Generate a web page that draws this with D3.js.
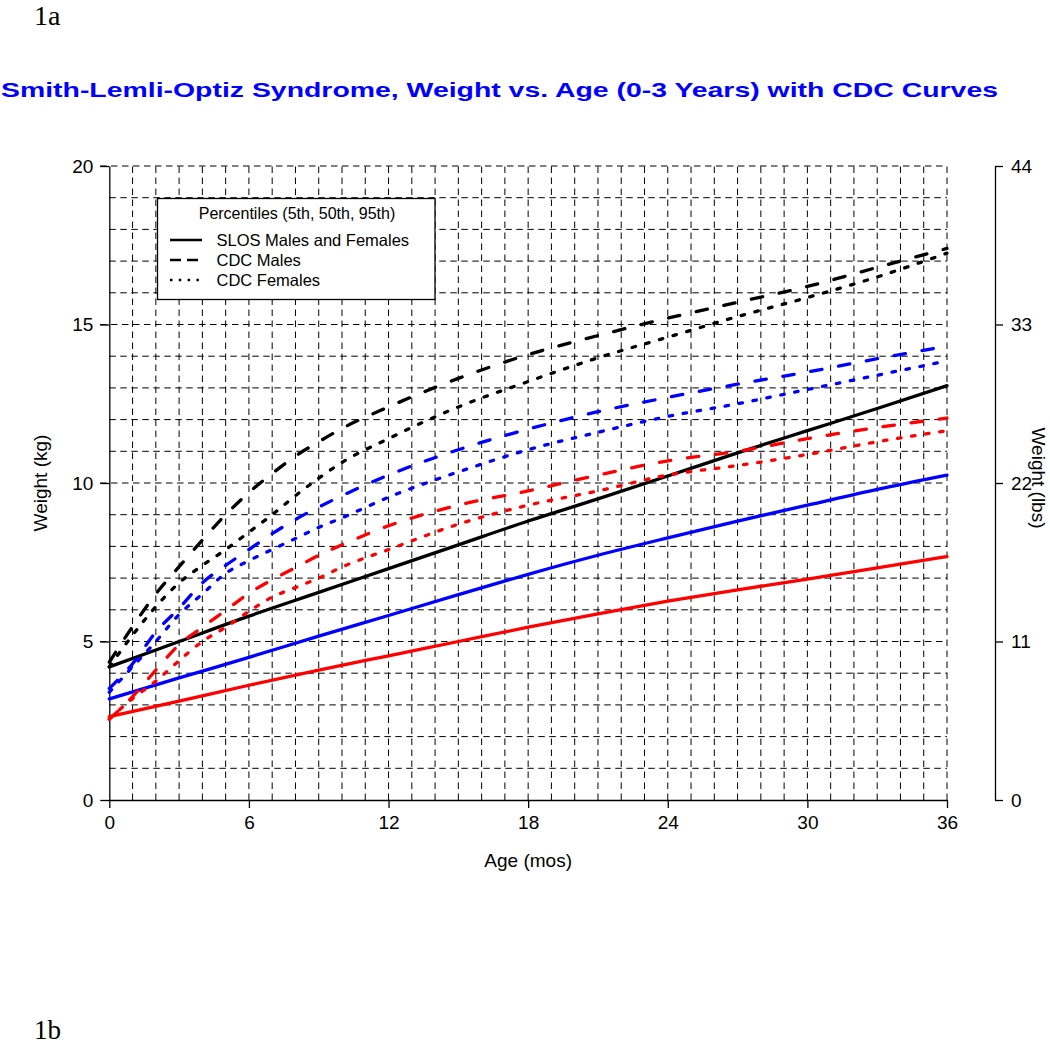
<!DOCTYPE html>
<html>
<head>
<meta charset="utf-8">
<script src="https://cdn.jsdelivr.net/npm/d3@7"></script>
<style>
  body { margin: 0; background: #fff; }
  svg { display: block; }
  text { font-family: "Liberation Sans", Arial, sans-serif; }
</style>
</head>
<body>
<script>
// ---------------- data ----------------
const titleText = "Smith-Lemli-Optiz Syndrome, Weight vs. Age (0-3 Years) with CDC Curves";
const xTicks = [0, 6, 12, 18, 24, 30, 36];
const yTicksKg = [0, 5, 10, 15, 20];
const yTicksLbs = [0, 11, 22, 33, 44];
const legendTitle = "Percentiles (5th, 50th, 95th)";
const legendLabels = ["SLOS Males and Females", "CDC Males", "CDC Females"];

// SLOS (solid)
const slosMonths = [0, 3, 6, 9, 12, 15, 18, 21, 24, 27, 30, 33, 36];
const slos95 = [4.2, 5.0, 5.8, 6.55, 7.3, 8.05, 8.8, 9.5, 10.22, 10.95, 11.65, 12.35, 13.07];
const slos50 = [3.19, 3.85, 4.5, 5.17, 5.82, 6.48, 7.12, 7.72, 8.27, 8.8, 9.3, 9.8, 10.25];
const slos5  = [2.63, 3.12, 3.62, 4.1, 4.55, 5.0, 5.45, 5.87, 6.27, 6.63, 6.97, 7.32, 7.68];

// CDC curves
const cdcMonths = [0, 1, 2, 3, 4, 5, 6, 7, 8, 9, 10, 12, 15, 18, 21, 24, 27, 30, 33, 36];
const cdcMale95   = [4.35, 5.47, 6.5, 7.36, 8.2, 9.0, 9.7, 10.3, 10.85, 11.3, 11.72, 12.4, 13.3, 14.05, 14.65, 15.2, 15.7, 16.2, 16.8, 17.4];
const cdcFemale95 = [4.2, 5.2, 6.1, 6.85, 7.4, 7.9, 8.45, 9.0, 9.6, 10.15, 10.65, 11.4, 12.4, 13.2, 13.95, 14.6, 15.25, 15.85, 16.5, 17.25];
const cdcMale50   = [3.52, 4.3, 5.3, 6.05, 6.85, 7.4, 7.9, 8.4, 8.85, 9.24, 9.6, 10.25, 11.05, 11.7, 12.25, 12.7, 13.12, 13.5, 13.92, 14.32];
const cdcFemale50 = [3.4, 4.2, 5.0, 5.85, 6.5, 7.15, 7.55, 7.9, 8.25, 8.6, 8.9, 9.55, 10.35, 11.05, 11.6, 12.1, 12.5, 12.95, 13.4, 13.85];
const cdcMale5    = [2.55, 3.26, 4.1, 4.9, 5.45, 5.98, 6.52, 6.95, 7.33, 7.72, 8.05, 8.65, 9.3, 9.75, 10.25, 10.7, 11.0, 11.4, 11.75, 12.05];
const cdcFemale5  = [2.55, 3.2, 3.75, 4.4, 5.0, 5.45, 5.95, 6.4, 6.7, 7.0, 7.35, 7.9, 8.7, 9.3, 9.75, 10.25, 10.55, 10.9, 11.3, 11.65];

// --------------- layout ---------------
const W = 1050, H = 1046;
const svg = d3.select("body").append("svg").attr("width", W).attr("height", H);

const x = d3.scaleLinear().domain([0, 36]).range([109.3, 947]);
const y = d3.scaleLinear().domain([0, 20]).range([800, 166]);
const yLbs = d3.scaleLinear().domain([0, 44]).range([800, 166]);

// figure labels
svg.append("text").attr("x", 34).attr("y", 25)
  .style("font-family", "'Liberation Serif', 'Times New Roman', serif")
  .style("font-size", "28px").text("1a");
svg.append("text").attr("x", 34).attr("y", 1039)
  .style("font-family", "'Liberation Serif', 'Times New Roman', serif")
  .style("font-size", "27px").text("1b");

// title
svg.append("text").attr("x", 1).attr("y", 97)
  .attr("textLength", 997).attr("lengthAdjust", "spacingAndGlyphs")
  .style("font-size", "21px").style("font-weight", "bold").style("fill", "#0000ff")
  .text(titleText);

// grid
const grid = svg.append("g").attr("stroke", "#000").attr("stroke-width", 1)
  .attr("stroke-dasharray", "6.5,4.5").attr("fill", "none");
grid.selectAll("line.h").data(d3.range(1, 21)).join("line")
  .attr("x1", d => (d % 5 === 0 ? 100 : x(0))).attr("x2", x(36))
  .attr("y1", d => y(d)).attr("y2", d => y(d));
grid.selectAll("line.v").data(d3.range(1, 37)).join("line")
  .attr("y1", y(0)).attr("y2", y(20))
  .attr("x1", d => x(d)).attr("x2", d => x(d));

// axes
const axisStyle = g => {
  g.select(".domain").attr("stroke", "#000").attr("stroke-width", 1.3);
  g.selectAll(".tick line").attr("stroke", "#000").attr("stroke-width", 1.3);
  g.selectAll(".tick text").style("font-size", "19px").style("fill", "#000")
    .style("font-family", "'Liberation Sans', Arial, sans-serif");
};
svg.append("g").attr("transform", `translate(0,${y(0)})`)
  .call(d3.axisBottom(x).tickValues(xTicks).tickSize(8).tickSizeOuter(0).tickPadding(8))
  .call(axisStyle);
svg.append("g").attr("transform", `translate(${x(0)},0)`)
  .call(d3.axisLeft(y).tickValues(yTicksKg).tickSize(9).tickSizeOuter(0).tickPadding(7))
  .call(axisStyle);
svg.append("g").attr("transform", `translate(995,0)`)
  .call(d3.axisRight(yLbs).tickValues(yTicksLbs).tickSize(8).tickSizeOuter(0).tickPadding(8))
  .call(axisStyle);

// axis titles
svg.append("text").attr("x", (x(0) + x(36)) / 2).attr("y", 867)
  .attr("text-anchor", "middle").style("font-size", "19px").text("Age (mos)");
svg.append("text").attr("transform", `translate(47,483) rotate(-90)`)
  .attr("text-anchor", "middle").style("font-size", "19px").text("Weight (kg)");
svg.append("text").attr("transform", `translate(1032,478) rotate(90)`)
  .attr("text-anchor", "middle").style("font-size", "19px").text("Weight (lbs)");

// curves
const line = d3.line().x(d => x(d[0])).y(d => y(d[1])).curve(d3.curveMonotoneX);
const DASH = "11.5,16.8", DOT = "3.5,10.7";
const series = [
  { m: slosMonths, v: slos5, color: "#ff0000", dash: null },
  { m: slosMonths, v: slos50, color: "#0000ff", dash: null },
  { m: slosMonths, v: slos95, color: "#000000", dash: null },
  { m: cdcMonths, v: cdcMale5, color: "#ff0000", dash: DASH },
  { m: cdcMonths, v: cdcMale50, color: "#0000ff", dash: DASH },
  { m: cdcMonths, v: cdcMale95, color: "#000000", dash: DASH },
  { m: cdcMonths, v: cdcFemale5, color: "#ff0000", dash: DOT },
  { m: cdcMonths, v: cdcFemale50, color: "#0000ff", dash: DOT },
  { m: cdcMonths, v: cdcFemale95, color: "#000000", dash: DOT }
];
svg.append("g").selectAll("path").data(series).join("path")
  .attr("d", s => line(s.m.map((mm, i) => [mm, s.v[i]])))
  .attr("fill", "none").attr("stroke", s => s.color).attr("stroke-width", 3.3)
  .attr("stroke-linecap", "round").attr("stroke-linejoin", "round")
  .attr("stroke-dasharray", s => s.dash);

// legend
const lg = svg.append("g");
lg.append("rect").attr("x", 157.5).attr("y", 198.5).attr("width", 277.5).attr("height", 101)
  .attr("fill", "#fff").attr("stroke", "#000").attr("stroke-width", 1.3);
lg.append("text").attr("x", 297).attr("y", 219).attr("text-anchor", "middle")
  .style("font-size", "16px").text(legendTitle);
const legDash = [null, "11,6", "2.5,6.3"];
legendLabels.forEach((lab, i) => {
  const yy = 240 + i * 20;
  lg.append("line").attr("x1", 170).attr("x2", 202).attr("y1", yy).attr("y2", yy)
    .attr("stroke", "#000").attr("stroke-width", 2.5).attr("stroke-dasharray", legDash[i]);
  lg.append("text").attr("x", 216.5).attr("y", yy + 6).style("font-size", "16.5px").text(lab);
});
</script>
</body>
</html>
